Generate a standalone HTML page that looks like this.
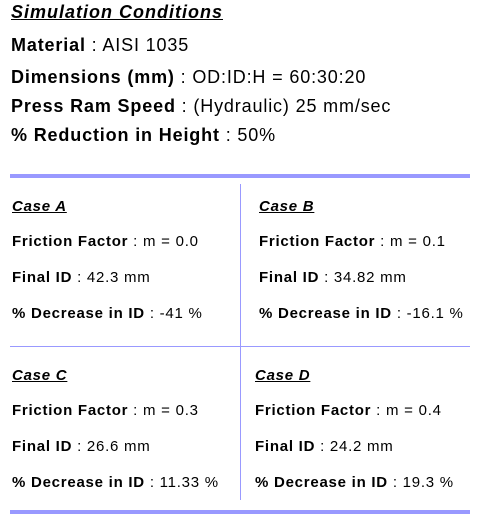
<!DOCTYPE html>
<html><head><meta charset="utf-8"><style>
body{margin:0;width:484px;height:526px;background:#fff;position:relative;overflow:hidden;font-family:"Liberation Sans",Arial,sans-serif;color:#000}
.t{position:absolute;white-space:nowrap}
.b18{font-size:18px;line-height:20px;letter-spacing:0.85px}
.s14{font-size:15px;line-height:16px;letter-spacing:0.75px}
b{font-weight:bold}
.rule{position:absolute;background:#9999ff}
</style></head><body>
<div class="t b18" style="left:11px;top:2px;font-weight:bold;font-style:italic;text-decoration:underline;letter-spacing:1px">Simulation Conditions</div>
<div class="t b18" style="left:11px;top:35px"><b>Material</b> : AISI 1035</div>
<div class="t b18" style="left:11px;top:67px"><b>Dimensions (mm)</b> : OD:ID:H = 60:30:20</div>
<div class="t b18" style="left:11px;top:96px"><b>Press Ram Speed</b> : (Hydraulic) 25 mm/sec</div>
<div class="t b18" style="left:11px;top:125px"><b>% Reduction in Height</b> : 50%</div>

<div class="rule" style="left:10px;top:174px;width:460px;height:4px"></div>
<div class="rule" style="left:240px;top:184px;width:1px;height:316px"></div>
<div class="rule" style="left:10px;top:346px;width:460px;height:1px"></div>
<div class="rule" style="left:10px;top:510px;width:460px;height:4px"></div>

<div class="t s14" style="left:12px;top:199px;font-weight:bold;font-style:italic;text-decoration:underline">Case A</div>
<div class="t s14" style="left:12px;top:234px"><b>Friction Factor</b> : m = 0.0</div>
<div class="t s14" style="left:12px;top:270px"><b>Final ID</b> : 42.3 mm</div>
<div class="t s14" style="left:12px;top:306px"><b>% Decrease in ID</b> : -41 %</div>

<div class="t s14" style="left:259px;top:199px;font-weight:bold;font-style:italic;text-decoration:underline">Case B</div>
<div class="t s14" style="left:259px;top:234px"><b>Friction Factor</b> : m = 0.1</div>
<div class="t s14" style="left:259px;top:270px"><b>Final ID</b> : 34.82 mm</div>
<div class="t s14" style="left:259px;top:306px"><b>% Decrease in ID</b> : -16.1 %</div>

<div class="t s14" style="left:12px;top:368px;font-weight:bold;font-style:italic;text-decoration:underline">Case C</div>
<div class="t s14" style="left:12px;top:403px"><b>Friction Factor</b> : m = 0.3</div>
<div class="t s14" style="left:12px;top:439px"><b>Final ID</b> : 26.6 mm</div>
<div class="t s14" style="left:12px;top:475px"><b>% Decrease in ID</b> : 11.33 %</div>

<div class="t s14" style="left:255px;top:368px;font-weight:bold;font-style:italic;text-decoration:underline">Case D</div>
<div class="t s14" style="left:255px;top:403px"><b>Friction Factor</b> : m = 0.4</div>
<div class="t s14" style="left:255px;top:439px"><b>Final ID</b> : 24.2 mm</div>
<div class="t s14" style="left:255px;top:475px"><b>% Decrease in ID</b> : 19.3 %</div>
</body></html>
